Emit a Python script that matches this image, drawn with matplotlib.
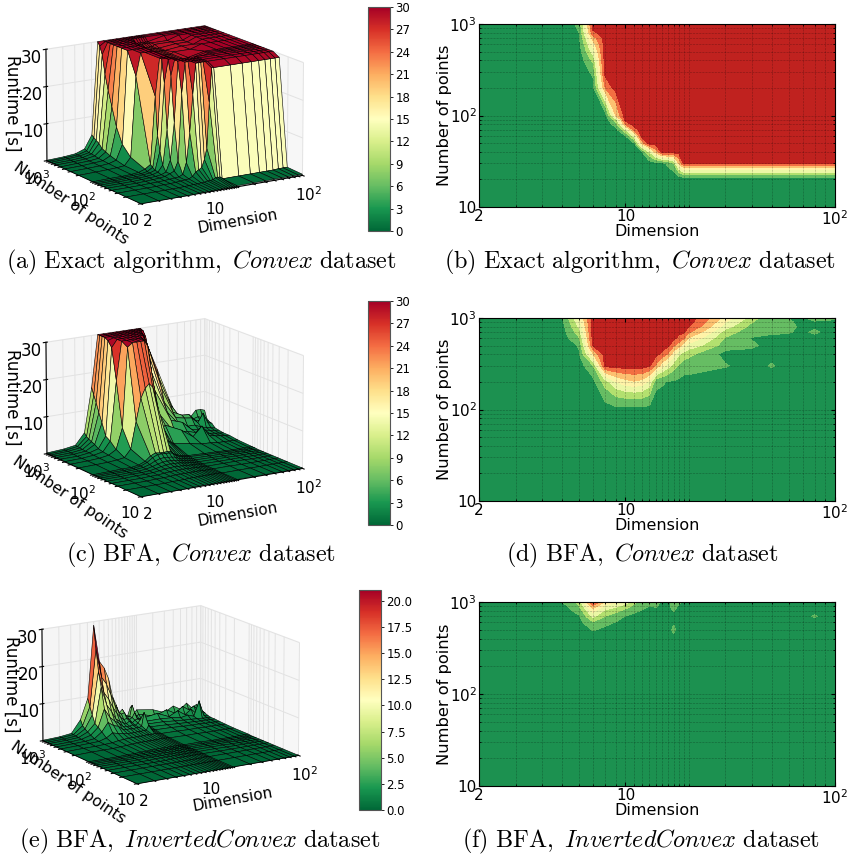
import numpy as np
import matplotlib
matplotlib.use('Agg')
import matplotlib.pyplot as plt
from matplotlib.cm import ScalarMappable
from matplotlib.colors import Normalize
from mpl_toolkits.mplot3d import Axes3D  # noqa
from matplotlib.ticker import NullFormatter, FixedLocator

# grid the runs were done on
dims = [2, 3, 4, 5, 6, 7, 8, 9, 10, 11, 12, 13, 14, 15, 16, 17, 18, 19, 20, 30, 40, 50, 60, 70, 80, 90, 100]
points = [10, 20, 30, 40, 50, 60, 70, 80, 90, 100, 200, 300, 400, 500, 600, 700, 800, 900, 1000]

# runtime in seconds, one row per number of points, one column per dimension
exact_z = [
    [0, 0, 0, 0, 0, 0, .1, .1, .1, .1, .1, .1, .2, .2, .2, .2, .2, .2, .3, .3, .3, .3, .3, .3, .3, .3, .3],
    [0, 0, 0, 0, 0, 0, .1, .1, .2, .2, .3, .3, .5, .5, .6, 1, 1, 1, .4, .4, .4, .4, .4, .4, .5, .5, .5],
    [0, 0, 0, 0, .1, .1, .2, .3, .4, .5, 1, 2, 2.5, 3, 5, 8, 20, 29, 29, 29, 29, 29, 29, 29, 29, 29, 29],
    [0, 0, 0, .1, .1, .2, .3, .4, .5, 1, 4, 12, 22, 30, 30, 30, 30, 30, 30, 30, 30, 30, 30, 30, 30, 30, 30],
    [0, 0, 0, .1, .2, .3, .5, 1, 1.5, 4, 22, 30, 30, 30, 30, 30, 30, 30, 30, 30, 30, 30, 30, 30, 30, 30, 30],
    [0, 0, 0, .1, .2, .3, .5, 1, 4, 14, 30, 30, 30, 30, 30, 30, 30, 30, 30, 30, 30, 30, 30, 30, 30, 30, 30],
    [0, 0, .1, .1, .2, .4, .8, 2.5, 12, 26, 30, 30, 30, 30, 30, 30, 29, 29, 30, 30, 30, 30, 30, 30, 30, 30, 30],
    [0, 0, .1, .1, .3, .5, 1, 6, 24, 30, 30, 30, 29, 29, 29, 29, 29, 29, 29, 30, 30, 30, 30, 30, 30, 30, 30],
    [0, 0, .1, .2, .3, .6, 1.5, 10, 30, 30, 30, 30, 29, 29, 29, 29, 29, 29, 29, 30, 30, 30, 30, 30, 30, 30, 30],
    [0, .1, .1, .2, .4, 1, 2, 20, 30, 30, 30, 29, 29, 29, 28.5, 28.5, 28.5, 28.5, 29, 30, 30, 30, 30, 30, 30, 30, 30],
    [0, .1, .2, .3, .5, 2.5, 24, 30, 30, 30, 30, 29, 29, 28.5, 28.5, 28.5, 28.5, 28.5, 29, 29, 30, 30, 30, 30, 30, 30, 30],
    [0, .1, .2, .4, 1, 5, 30, 30, 30, 30, 30, 29, 29, 28.5, 28.5, 28.5, 28.5, 28.5, 28.5, 29, 29, 30, 30, 30, 30, 30, 30],
    [0, .1, .3, .5, 1.5, 9, 30, 30, 30, 30, 30, 29, 29, 28.5, 28.5, 28.5, 28.5, 28.5, 28.5, 29, 29, 30, 30, 30, 30, 30, 30],
    [0, .2, .3, .6, 2, 14, 30, 30, 30, 30, 30, 30, 29, 29, 28.5, 28.5, 28.5, 28.5, 29, 29, 29, 30, 30, 30, 30, 30, 30],
    [.1, .2, .4, .8, 2.5, 18, 30, 30, 30, 30, 30, 30, 29, 29, 29, 29, 29, 29, 29, 29, 30, 30, 30, 30, 30, 30, 30],
    [.1, .2, .4, 1, 3.5, 22, 30, 30, 30, 30, 30, 30, 30, 29, 29, 29, 29, 29, 29, 30, 30, 30, 30, 30, 30, 30, 30],
    [.1, .3, .5, 1, 4, 27, 30, 30, 30, 30, 30, 30, 30, 30, 30, 30, 30, 30, 30, 30, 30, 30, 30, 30, 30, 30, 30],
    [.1, .3, .5, 1.2, 4.5, 29, 30, 30, 30, 30, 30, 30, 30, 30, 30, 30, 30, 30, 30, 30, 30, 30, 30, 30, 30, 30, 30],
    [.1, .3, .6, 1.5, 5, 30, 30, 30, 30, 30, 30, 30, 30, 30, 30, 30, 30, 30, 30, 30, 30, 30, 30, 30, 30, 30, 30],
]

bfa_convex_z = [
    [0, 0, 0, 0, 0, .1, .1, .1, .1, .1, .1, .1, .1, .1, .1, .1, .1, .1, .1, .1, .1, .1, .1, .1, .1, .1, .1],
    [0, 0, 0, 0, .1, .1, .1, .2, .2, .2, .2, .2, .2, .2, .2, .2, .2, .2, .1, .1, .1, .1, .1, .1, .1, .1, .1],
    [0, 0, 0, .1, .1, .2, .3, .3, .3, .3, .3, .3, .3, .3, .2, .2, .2, .2, .2, .2, .1, .1, .1, .1, .1, .1, .1],
    [0, 0, 0, .1, .1, .3, .4, .5, .5, .5, .5, .4, .4, .4, .3, .3, .3, .3, .2, .2, .2, .2, .1, .1, .1, .1, .1],
    [0, 0, .1, .1, .2, .4, .6, .7, .8, .7, .7, .6, .5, .5, .4, .4, .4, .3, .3, .2, .2, .2, .2, .1, .1, .1, .1],
    [0, 0, .1, .1, .2, .5, .8, 1, 1.1, 1, 1, .9, .7, .6, .6, .5, .4, .4, .4, .3, .3, .2, .2, .2, .1, .1, .1],
    [0, 0, .1, .1, .3, .7, 1.1, 1.4, 1.5, 1.4, 1.3, 1.2, 1, .8, .7, .7, .6, .5, .5, .4, .3, .3, .2, .2, .2, .1, .1],
    [0, .1, .1, .2, .4, .9, 1.6, 2, 2.1, 2, 1.9, 1.7, 1.3, 1, .9, .8, .8, .7, .6, .5, .4, .3, .3, .2, .2, .2, .1],
    [0, .1, .1, .2, .5, 1.2, 2.2, 2.8, 2.8, 2.7, 2.7, 2.5, 1.8, 1.4, 1.2, 1, .9, .9, .8, .6, .5, .4, .3, .3, .2, .2, .2],
    [0, .1, .2, .2, .5, 1.2, 2.4, 3, 2.8, 2.8, 2.8, 2.8, 2, 1.6, 1.3, 1.1, 1, .9, .8, .6, .5, .4, .3, .3, .3, .3, .2],
    [.1, .2, .3, .5, .8, 2.8, 10, 16, 18.5, 19.6, 18.5, 14.8, 5.2, 4.6, 3.6, 3.6, 3.2, 2.8, 2.4, 1.6, 1, .9, .6, .6, .5, .5, .4],
    [.1, .2, .4, .8, 2, 7.6, 29, 30, 30, 30, 30, 28.6, 23.2, 17.2, 13.6, 10, 7.6, 5.8, 6.4, 4.3, 2, 4.5, 1.6, 1.2, 1, .8, .7],
    [.1, .2, .5, 1, 3.6, 19.6, 30, 30, 30, 30, 30, 30, 29, 26.8, 23.2, 17.2, 12.4, 10, 8.8, 2.6, 2.8, 2, 1.6, 1.2, 1, .8, .7],
    [.2, .2, .6, 1.3, 4.4, 28, 30, 30, 30, 30, 30, 30, 30, 30, 28.6, 24.4, 22, 17.2, 14.8, 5.8, 4.7, 2.4, 2, 1.6, 1.2, 1, .9],
    [.2, .3, .6, 2, 7.6, 29.5, 30, 30, 30, 30, 30, 30, 30, 30, 30, 29, 26.8, 24.4, 19.6, 7.6, 3.8, 2.8, 2.8, 2, 1.6, 1.3, 1.1],
    [.2, .3, .7, 2.4, 10, 30, 30, 30, 30, 30, 30, 30, 30, 30, 30, 30, 29, 28.6, 24.4, 10, 5.2, 4.7, 4.4, 2.8, 5.2, 2.4, 2],
    [.2, .4, .8, 2.8, 12.4, 30, 30, 30, 30, 30, 30, 30, 30, 30, 30, 30, 30, 30, 28, 13.6, 6.4, 5.2, 5, 3.2, 2.8, 2.8, 2.2],
    [.2, .4, .9, 3.2, 14.2, 30, 30, 30, 30, 30, 30, 30, 30, 30, 30, 30, 30, 30, 29.5, 16, 8.2, 4.6, 4.4, 3.2, 3.6, 3.2, 2.8],
    [.2, .5, 1, 4, 16, 30, 30, 30, 30, 30, 30, 30, 30, 30, 30, 30, 30, 30, 30, 18.4, 10, 4, 4, 3.6, 5.2, 5.2, 4.8],
]

bfa_inverted_z = [
    [0, 0, 0, 0, 0, 0, 0, 0, 0, 0, 0, 0, 0, 0, 0, 0, 0, 0, 0, 0, 0, 0, 0, 0, 0, 0, 0],
    [0, 0, 0, 0, 0, 0, 0, 0, 0, 0, 0, 0, 0, 0, 0, 0, 0, 0, 0, 0, 0, 0, 0, 0, 0, 0, 0],
    [0, 0, 0, 0, 0, 0, 0, 0, 0, 0, 0, 0, 0, 0, 0, .1, .1, .1, 0, 0, 0, 0, 0, 0, 0, 0, 0],
    [0, 0, 0, 0, 0, 0, 0, .1, .1, .1, .1, .1, .1, .1, .1, .1, .1, .1, .1, 0, 0, 0, 0, 0, 0, 0, 0],
    [0, 0, 0, 0, 0, .1, .1, .1, .1, .1, .1, .1, .1, .1, .1, .1, .1, .1, .1, .1, 0, 0, 0, 0, 0, 0, 0],
    [0, 0, 0, 0, .1, .1, .1, .1, .1, .1, .1, .1, .1, .1, .1, .2, .1, .1, .1, .1, .1, 0, 0, 0, 0, 0, 0],
    [0, 0, 0, 0, .1, .1, .1, .1, .2, .1, .1, .1, .2, .1, .2, .2, .2, .1, .1, .1, .1, .1, 0, 0, 0, 0, 0],
    [0, 0, 0, 0, .1, .1, .1, .2, .2, .2, .2, .2, .2, .2, .2, .2, .2, .2, .1, .1, .1, .1, .1, 0, 0, 0, 0],
    [0, 0, 0, .1, .1, .1, .2, .2, .2, .2, .2, .2, .2, .2, .2, .3, .2, .2, .2, .1, .1, .1, .1, .1, 0, 0, 0],
    [0, 0, 0, .1, .1, .2, .2, .3, .3, .3, .3, .3, .3, .3, .3, .3, .3, .2, .2, .2, .1, .1, .1, .1, .1, .1, .1],
    [0, .1, .1, .1, .2, .3, .4, .5, .5, .5, .5, .5, .5, .5, .6, .6, .5, .5, .4, .3, .3, .2, .2, .2, .2, .1, .1],
    [0, .1, .1, .2, .3, .6, .7, .8, .8, .8, .8, .8, .9, .8, .8, .9, .8, .7, .6, .5, .4, .4, .3, .3, .3, .2, .2],
    [0, .1, .2, .3, .9, 2, 1.6, 1.4, 1.2, 1.1, 1.1, 1.2, 1.1, 1.3, 1.2, 2.4, 1.2, 1, .9, .8, .6, .5, .5, .4, .4, .3, .3],
    [0, .1, .2, .5, 2, 4.3, 3.2, 2.8, 1.8, 1.5, 1.6, 1.4, 1.6, 1.5, 1.8, 5.4, 1.6, 1.4, 1.2, 1, .8, .7, .6, .5, .5, .4, .4],
    [0, .1, .3, 1, 2.8, 7.5, 5, 3.8, 3, 2, 1.8, 1.7, 1.9, 1.7, 2.2, 3, 2, 1.7, 1.5, 1.4, 1.1, .9, .8, .7, .6, .5, .4],
    [.1, .2, .4, 1.5, 3.5, 13, 8, 6, 3.8, 3, 2.4, 2, 2.6, 2, 2.6, 2.8, 2.4, 2, 1.8, 1.8, 1.6, 1.2, 1.6, 1, 5, .8, .6],
    [.1, .2, .5, 2, 5.5, 17, 11, 9, 6.5, 4.8, 3.6, 2.8, 3, 2.6, 3, 4.2, 2.6, 2.4, 2.3, 3, 1.6, 2.8, 1.4, 2.6, 1.2, 1.8, .9],
    [.1, .3, .6, 2.6, 7.5, 23, 15, 13, 10, 7, 5, 4, 4.3, 3, 3, 6, 3, 2.8, 3.2, 2, 3.2, 1.8, 3.4, 2.2, 3, 1.4, 1.2],
    [.1, .3, .7, 4, 9.5, 29, 19, 17, 14, 9, 6.5, 4.2, 5, 3.2, 3, 5, 5, 3.5, 4.2, 3.5, 2.2, 3.6, 2.4, 3.8, 2.2, 3, 1.2],
]

# band colours of the filled contours
band_levels = [0, 4, 8, 12, 16, 20, 24, 28, 32]
band_colors = ['#1c9150', '#66bd63', '#b3e06f', '#ecf7a6', '#fff3a8', '#fdc070', '#f36f42', '#c0221f']

panels_3d = [
    (exact_z, 30.0, [0, 3, 6, 9, 12, 15, 18, 21, 24, 27, 30], ['0', '3', '6', '9', '12', '15', '18', '21', '24', '27', '30']),
    (bfa_convex_z, 30.0, [0, 3, 6, 9, 12, 15, 18, 21, 24, 27, 30], ['0', '3', '6', '9', '12', '15', '18', '21', '24', '27', '30']),
    (bfa_inverted_z, 21.05, [0, 2.5, 5, 7.5, 10, 12.5, 15, 17.5, 20], ['0.0', '2.5', '5.0', '7.5', '10.0', '12.5', '15.0', '17.5', '20.0']),
]
captions_left = [
    r'$\mathrm{(a)\ Exact\ algorithm,\ }\mathit{Convex}\mathrm{\ dataset}$',
    r'$\mathrm{(c)\ BFA,\ }\mathit{Convex}\mathrm{\ dataset}$',
    r'$\mathrm{(e)\ BFA,\ }\mathit{InvertedConvex}\mathrm{\ dataset}$',
]
captions_right = [
    r'$\mathrm{(b)\ Exact\ algorithm,\ }\mathit{Convex}\mathrm{\ dataset}$',
    r'$\mathrm{(d)\ BFA,\ }\mathit{Convex}\mathrm{\ dataset}$',
    r'$\mathrm{(f)\ BFA,\ }\mathit{InvertedConvex}\mathrm{\ dataset}$',
]

W, H = 847.0, 857.0
plt.rcParams['grid.color'] = '#e2e2e2'
plt.rcParams['grid.linewidth'] = 0.7
plt.rcParams['axes.linewidth'] = 0.8

fig = plt.figure(figsize=(W / 100, H / 100), dpi=100)


def px_rect(x0, y0, x1, y1):
    return [x0 / W, 1 - y1 / H, (x1 - x0) / W, (y1 - y0) / H]


def sparse_labels(values, shown):
    return [shown.get(v, '') for v in values]


X, Y = np.meshgrid(np.log10(dims), np.log10(points))
d_labels = {2: '2', 10: '10', 100: r'$\mathregular{10^{2}}$'}
p_labels = {10: '10', 100: r'$\mathregular{10^{2}}$', 1000: r'$\mathregular{10^{3}}$'}

# left column, surfaces and colour bars
rects_3d = [(28, -26, 312, 258), (28, 267, 312, 551), (24, 554, 308, 838)]
rects_cb = [(368, 7, 390, 231), (368, 301, 390, 525), (359, 590, 381, 810)]
for i, (z, vmax, cb_ticks, cb_labels) in enumerate(panels_3d):
    ax = fig.add_axes(px_rect(*rects_3d[i]), projection='3d')
    norm = Normalize(0, vmax)
    ax.plot_surface(X, Y, np.array(z), rstride=1, cstride=1, cmap='RdYlGn_r', norm=norm,
                    linewidth=0.4, edgecolor='k', antialiased=True)
    ax.view_init(elev=15, azim=-122)
    ax.set_proj_type('persp', focal_length=2.5)
    ax.set_box_aspect((4.15, 4, 2.55), zoom=0.98)
    ax.set_xlim(np.log10(2), 2)
    ax.set_ylim(1, 3)
    ax.set_zlim(0, 30)
    ax.set_xticks(np.log10(dims))
    ax.set_xticklabels(sparse_labels(dims, d_labels), fontsize=11)
    ax.set_yticks(np.log10(points))
    ax.set_yticklabels(sparse_labels(points, p_labels), fontsize=11)
    ax.set_zticks([10, 20, 30])
    ax.set_zticklabels(['10', '20', '30'], fontsize=12)
    ax.tick_params(axis='x', pad=-1)
    ax.tick_params(axis='y', pad=-1)
    ax.tick_params(axis='z', pad=-2)
    ax.xaxis.set_pane_color((0.97, 0.97, 0.97, 1))
    ax.yaxis.set_pane_color((0.96, 0.96, 0.96, 1))
    ax.zaxis.set_pane_color((0.96, 0.96, 0.96, 1))
    ax.patch.set_alpha(0)

    cax = fig.add_axes(px_rect(*rects_cb[i]))
    cb = fig.colorbar(ScalarMappable(norm=norm, cmap='RdYlGn_r'), cax=cax)
    cb.set_ticks(cb_ticks)
    cb.set_ticklabels(cb_labels)
    cb.ax.tick_params(labelsize=8.5, length=2, pad=2, width=0.6)
    cb.outline.set_edgecolor('#555555')

# axis names on the surfaces sit at a slant, placed by hand
runtime_pos = [(12, 103), (12, 397), (11, 684)]
number_pos = [(71, 203), (70, 497), (68, 782)]
dimension_pos = [(238, 222), (238, 515), (233, 800)]
for i in range(3):
    fig.text(runtime_pos[i][0] / W, 1 - runtime_pos[i][1] / H, 'Runtime [s]', rotation=-90, fontsize=12, ha='center', va='center')
    fig.text(number_pos[i][0] / W, 1 - number_pos[i][1] / H, 'Number of points', rotation=-34, fontsize=11.2, ha='center', va='center')
    fig.text(dimension_pos[i][0] / W, 1 - dimension_pos[i][1] / H, 'Dimension', rotation=10, fontsize=11, ha='center', va='center')

# right column, filled contours
rects_2d = [(479, 24, 835, 207), (479, 318, 835, 501), (479, 602, 835, 786)]
for i, (z, vmax, cb_ticks, cb_labels) in enumerate(panels_3d):
    ax = fig.add_axes(px_rect(*rects_2d[i]))
    ax.contourf(dims, points, np.array(z), levels=band_levels, colors=band_colors)
    ax.set_xscale('log')
    ax.set_yscale('log')
    ax.set_xlim(2, 100)
    ax.set_ylim(10, 1000)
    ax.xaxis.set_major_locator(FixedLocator([2, 10, 100]))
    ax.xaxis.set_minor_locator(FixedLocator(dims))
    ax.yaxis.set_major_locator(FixedLocator([10, 100, 1000]))
    ax.yaxis.set_minor_locator(FixedLocator(points))
    ax.set_xticklabels(['2', '10', r'$\mathregular{10^{2}}$'])
    ax.set_yticklabels(['10', r'$\mathregular{10^{2}}$', r'$\mathregular{10^{3}}$'])
    ax.xaxis.set_minor_formatter(NullFormatter())
    ax.yaxis.set_minor_formatter(NullFormatter())
    ax.tick_params(which='both', direction='in', labelsize=11, top=True, right=True, pad=1.5)
    ax.tick_params(which='major', length=3)
    ax.tick_params(which='minor', length=1.5)
    ax.grid(True, which='both', color='k', linestyle=':', linewidth=0.4, alpha=0.6)
    ax.set_axisbelow(False)
    ax.set_xlabel('Dimension', fontsize=11.5, labelpad=-3)
    ax.set_ylabel('Number of points', fontsize=11.7, labelpad=-2)

cap_y = [262, 555, 841]
cap_x_left = [201, 201, 200]
cap_x_right = [640, 642, 641]
for i in range(3):
    fig.text(cap_x_left[i] / W, 1 - cap_y[i] / H, captions_left[i], fontsize=17.4, math_fontfamily='cm', ha='center', va='center')
    fig.text(cap_x_right[i] / W, 1 - cap_y[i] / H, captions_right[i], fontsize=17.4, math_fontfamily='cm', ha='center', va='center')

fig.savefig('out.png', dpi=100)
